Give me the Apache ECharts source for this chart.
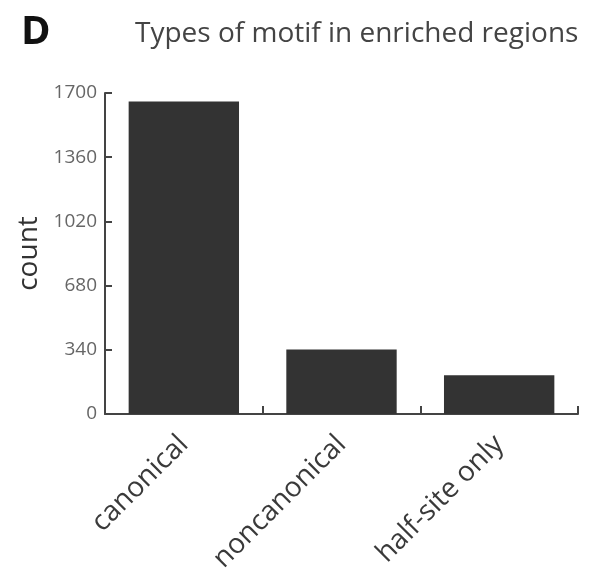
<!DOCTYPE html>
<html>
<head>
<meta charset="utf-8">
<script src="https://cdn.jsdelivr.net/npm/echarts@6/dist/echarts.min.js"></script>
<style>
html,body{margin:0;padding:0;background:#fff;}
#c{width:592px;height:571px;}
</style>
</head>
<body>
<div id="c"></div>
<script>
const categories = ['canonical', 'noncanonical', 'half-site only'];
const counts = [1655, 342, 205];
const yTicks = [0, 340, 680, 1020, 1360, 1700];

const FONT = '"Open Sans", sans-serif';
const chart = echarts.init(document.getElementById('c'), null, {renderer: 'canvas'});
chart.setOption({
  animation: false,
  backgroundColor: '#fff',
  title: [
    {text: 'D', left: 16, top: 8, textStyle: {fontFamily: FONT, fontSize: 40, fontWeight: 'bold', color: '#111'}},
    {text: 'Types of motif in enriched regions', left: 130, top: 15, textStyle: {fontFamily: FONT, fontSize: 28, fontWeight: 'normal', color: '#444'}}
  ],
  grid: {left: 105, right: 14, top: 93, bottom: 157, containLabel: false, outerBoundsMode: 'none'},
  xAxis: {
    type: 'category',
    data: categories,
    axisLine: {lineStyle: {color: '#444', width: 2}},
    axisTick: {show: true, inside: true, length: 8, lineStyle: {color: '#444', width: 2}},
    axisLabel: {rotate: 45, fontSize: 28, color: '#3a3a3a', fontFamily: FONT, margin: 26}
  },
  yAxis: {
    type: 'value',
    min: yTicks[0],
    max: yTicks[yTicks.length - 1],
    interval: yTicks[1] - yTicks[0],
    name: 'count',
    nameLocation: 'middle',
    nameRotate: 90,
    nameGap: 62,
    nameTextStyle: {fontFamily: FONT, fontSize: 28, color: '#333'},
    axisLine: {show: true, lineStyle: {color: '#444', width: 2}},
    axisTick: {show: true, inside: true, length: 7, lineStyle: {color: '#444', width: 2}},
    axisLabel: {fontSize: 19, color: '#666', fontFamily: FONT, margin: 8, formatter: v => String(v)},
    splitLine: {show: false}
  },
  series: [{
    type: 'bar',
    data: counts,
    barWidth: '70%',
    itemStyle: {color: '#333333'}
  }]
});
</script>
</body>
</html>
